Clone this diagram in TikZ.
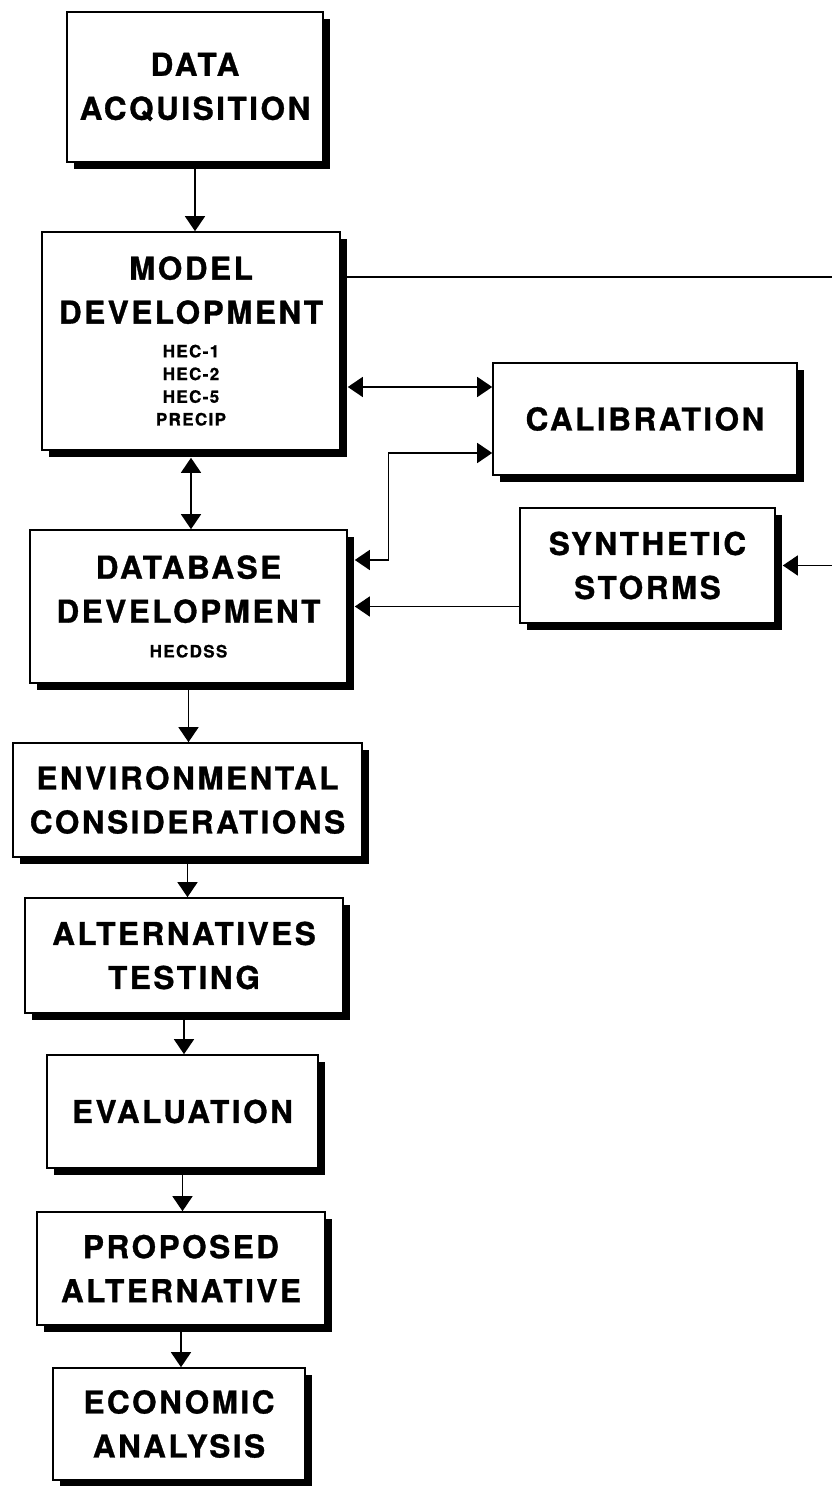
\documentclass[tikz,border=0pt]{standalone}
\usepackage{fontspec}
\usetikzlibrary{arrows.meta,shadows}
\newfontfamily\heros[LetterSpace=8, BoldFeatures={FakeBold=1}]{TeX Gyre Heros}
\newcommand\boxfont{\heros\bfseries\fontsize{31.5}{44}\selectfont}
\newcommand\progfont{\heros\bfseries\fontsize{17}{22.7}\selectfont}

\tikzset{
  stage/.style={draw, line width=1.6pt, fill=white, inner sep=0pt, align=center, font=\boxfont,
    drop shadow={shadow xshift=7pt, shadow yshift=-7pt, fill=black, opacity=1}},
  wire/.style={line width=1.4pt},
  oneway/.style={wire, -{Triangle[width=20pt,length=15pt]}},
  twoway/.style={wire, {Triangle[width=20pt,length=15pt]}-{Triangle[width=20pt,length=15pt]}}
}

\begin{document}
\begin{tikzpicture}[x=1pt, y=1pt]
\useasboundingbox (0,0) rectangle (832,1486);

% main chain
\node[stage, minimum width=256pt, minimum height=150pt] (data) at (195,1399) {DATA\\ACQUISITION};
\node[stage, minimum width=298pt, minimum height=218pt] (model) at (191,1145)
  {\parbox{290pt}{\centering\boxfont MODEL\\DEVELOPMENT\\[11pt]\progfont HEC-1\\HEC-2\\HEC-5\\PRECIP}};
\node[stage, minimum width=317pt, minimum height=153pt] (dbase) at (188.5,879.5)
  {\parbox{310pt}{\centering\boxfont DATABASE\\DEVELOPMENT\\[12pt]\progfont HECDSS}};
\node[stage, minimum width=349pt, minimum height=114pt] (envir) at (187.5,686) {ENVIRONMENTAL\\CONSIDERATIONS};
\node[stage, minimum width=318pt, minimum height=115pt] (alter) at (184,530.5) {ALTERNATIVES\\TESTING};
\node[stage, minimum width=271pt, minimum height=113pt] (evalu) at (182.5,374.5) {EVALUATION};
\node[stage, minimum width=288pt, minimum height=113pt] (propo) at (181,217.5) {PROPOSED\\ALTERNATIVE};
\node[stage, minimum width=252pt, minimum height=112pt] (econ) at (179,62) {ECONOMIC\\ANALYSIS};

% side boxes
\node[stage, minimum width=304pt, minimum height=112pt] (calib) at (645,1067) {CALIBRATION};
\node[stage, minimum width=255pt, minimum height=115pt] (storms) at (647.5,920.5) {SYNTHETIC\\STORMS};

\coordinate (edgeA) at (832,1209);
\coordinate (edgeB) at (storms.east -| edgeA);

% vertical flow
\draw[oneway] (data.south) -- (data.south |- model.north);
\draw[twoway] ([yshift=-7pt]model.south) -- (model.south |- dbase.north);
\draw[oneway] (dbase.south) -- (dbase.south |- envir.north);
\draw[oneway] (envir.south) -- (envir.south |- alter.north);
\draw[oneway] (alter.south) -- (alter.south |- evalu.north);
\draw[oneway] (evalu.south) -- (evalu.south |- propo.north);
\draw[oneway] (propo.south) -- (propo.south |- econ.north);

% side links
\coordinate (mcal) at ([yshift=32pt]calib.west);
\draw[twoway] ([xshift=7pt]model.east |- mcal) -- (mcal);
\draw[twoway] ([yshift=-34pt]calib.west) -- ++(-104,0) |- ([xshift=7pt,yshift=46.5pt]dbase.east);
\draw[oneway] (storms.west |- dbase.east) -- ([xshift=7pt]dbase.east);
\draw[wire] (model.east |- edgeA) -- (edgeA);
\draw[oneway] (edgeB) -- ([xshift=7pt]storms.east);

\end{tikzpicture}
\end{document}
